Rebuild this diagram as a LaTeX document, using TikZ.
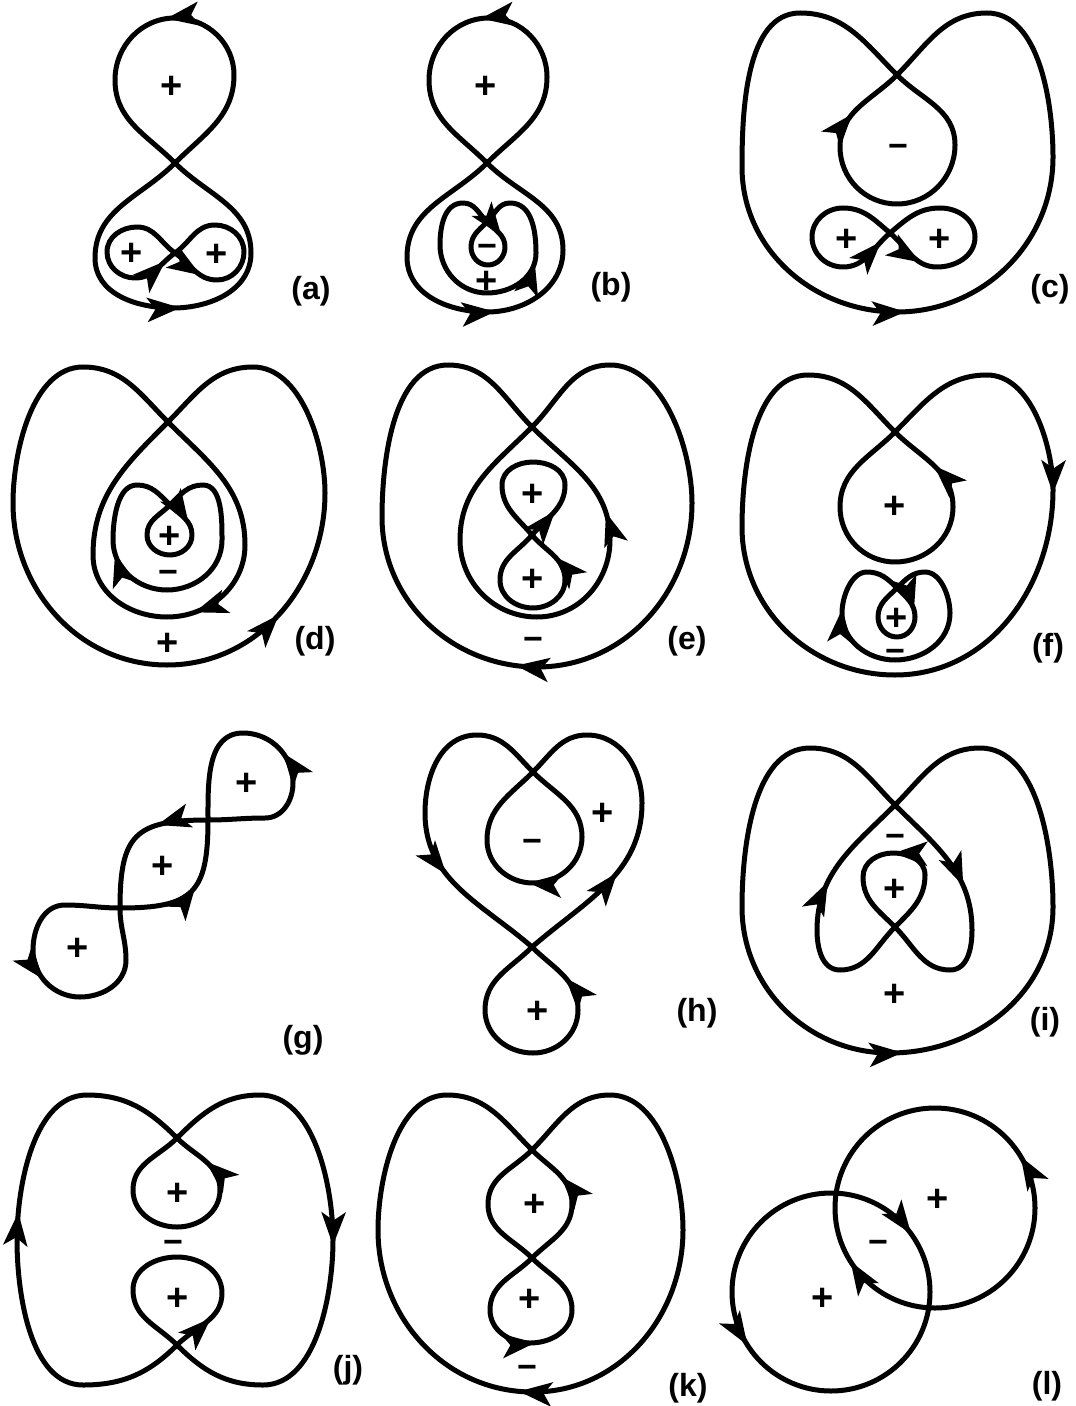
\documentclass[tikz,border=0pt]{standalone}
\usepackage{fontspec}
\setmainfont{Liberation Sans}
\usetikzlibrary{arrows.meta,decorations.markings}

\begin{document}
\begin{tikzpicture}[
    x=0.5pt, y=0.5pt,
    curve/.style={line width=2.5pt, line cap=round, line join=round},
    curvetip/.tip={Stealth[length=16.5pt, width=12pt, inset=4pt]},
    fwd/.style={postaction={decorate, decoration={markings, mark=at position #1 with {\arrow{curvetip}}}}},
    bwd/.style={postaction={decorate, decoration={markings, mark=at position #1 with {\arrowreversed{curvetip}}}}},
    sgnp/.style={font=\fontsize{19}{19}\selectfont\bfseries, inner sep=0pt, yshift=-1pt},
    sgnm/.style={font=\fontsize{17}{17}\selectfont\bfseries, inner sep=0pt, yshift=-2pt},
    tag/.style={font=\fontsize{16}{18}\selectfont\bfseries, inner sep=0pt},
    rnd/.style={looseness=0.85},
  ]
  \useasboundingbox (0,0) rectangle (1075,-1406);

  % (a)
  \coordinate (aX) at (175,-163);
  \coordinate (aY) at (175,-253);
  \draw[curve, fwd=0.52] (aX) to[out=45,in=-90] (234,-75) to[out=90,in=0] (175,-18) to[out=180,in=90] (115,-80) to[out=-90,in=135] (aX);
  \draw[curve, bwd=0.48] (aX) to[out=-45,in=90] (251,-253) to[out=-90,in=0] (173,-308) to[out=180,in=-90] (95,-258) to[out=90,in=-135] (aX);
  \draw[curve, fwd=0.93] (aY) to[out=145,in=0] (137,-227) to[out=180,in=90] (107,-252) to[out=-90,in=180] (135,-278) to[out=0,in=-145] (aY);
  \draw[curve, bwd=0.82] (aY) to[out=35,in=180] (215,-225) to[out=0,in=90] (244,-252) to[out=-90,in=0] (217,-280) to[out=180,in=-35] (aY);
  \node[sgnp] (a1) at (172,-85) {+};
  \node[sgnp] (a2) at (132,-252) {+};
  \node[sgnp] (a3) at (217,-253) {+};
  \node[tag] (la) at (311,-291) {(a)};

  % (b)
  \coordinate (bX) at (487,-163);
  \coordinate (bY) at (487,-222);
  \draw[curve, fwd=0.52] (bX) to[out=45,in=-90] (547,-77) to[out=90,in=0] (489,-18) to[out=180,in=90] (429,-80) to[out=-90,in=135] (bX);
  \draw[curve, bwd=0.475] (bX) to[out=-45,in=90] (563,-250) to[out=-90,in=0] (487,-312) to[out=180,in=-90] (407,-257) to[out=90,in=-135] (bX);
  \draw[curve, fwd=0.045, bwd=0.50] (bY) to[out=-45,in=90] (505,-247) to[out=-90,in=0] (488,-265) to[out=180,in=-90] (471,-247) to[out=90,in=-135] (bY)
    to[out=45,in=180] (510,-203) to[out=0,in=90] (536,-253) to[out=-90,in=0] (487,-293) to[out=180,in=-90] (440,-245) to[out=90,in=180] (463,-203) to[out=0,in=135] (bY);
  \node[sgnp] (b1) at (486,-85) {+};
  \node[sgnm] (b2) at (487,-247) {−};
  \node[sgnp] (b3) at (487,-280) {+};
  \node[tag] (lb) at (611,-287) {(b)};

  % (c)
  \coordinate (cX) at (897,-75);
  \coordinate (cY) at (890,-233);
  \draw[curve, bwd=0.49] (cX) to[out=45,in=180] (987,-13) to[out=0,in=90,rnd] (1053,-157) to[out=-90,in=0] (897,-312) to[out=180,in=-90] (742,-167) to[out=90,in=180,rnd] (800,-13) to[out=0,in=135] (cX);
  \draw[curve, bwd=0.16] (cX) to[out=-135,in=90] (840,-147) to[out=-90,in=180] (897,-204) to[out=0,in=-90] (955,-145) to[out=90,in=-45] (cX);
  \draw[curve, fwd=0.94] (cY) to[out=140,in=0] (843,-208) to[out=180,in=90] (812,-237) to[out=-90,in=180] (843,-267) to[out=0,in=-140] (cY);
  \draw[curve, bwd=0.81] (cY) to[out=40,in=180] (940,-208) to[out=0,in=90] (975,-237) to[out=-90,in=0] (937,-267) to[out=180,in=-40] (cY);
  \node[sgnm] (c1) at (898,-147) {−};
  \node[sgnp] (c2) at (847,-238) {+};
  \node[sgnp] (c3) at (940,-238) {+};
  \node[tag] (lc) at (1050,-289) {(c)};

  % (d)
  \coordinate (dX) at (168,-422);
  \coordinate (dY) at (170,-505);
  \draw[curve, bwd=0.38] (dX) to[out=45,in=180] (253,-367) to[out=0,in=90,rnd] (325,-493) to[out=-90,in=0] (167,-665) to[out=180,in=-90] (13,-503) to[out=90,in=180,rnd] (83,-367) to[out=0,in=135] (dX);
  \draw[curve, bwd=0.55] (dX) to[out=-135,in=90] (93,-555) to[out=-90,in=180] (167,-617) to[out=0,in=-90] (245,-545) to[out=90,in=-45] (dX);
  \draw[curve, fwd=0.05, fwd=0.77] (dY) to[out=-45,in=90] (192,-535) to[out=-90,in=0] (170,-555) to[out=180,in=-90] (147,-535) to[out=90,in=-135] (dY)
    to[out=45,in=180] (203,-485) to[out=0,in=90,rnd] (222,-540) to[out=-90,in=0] (167,-590) to[out=180,in=-90] (113,-540) to[out=90,in=180,rnd] (137,-485) to[out=0,in=135] (dY);
  \node[sgnp] (d1) at (170,-535) {+};
  \node[sgnm] (d2) at (168,-573) {−};
  \node[sgnp] (d3) at (168,-642) {+};
  \node[tag] (ld) at (315,-641) {(d)};

  % (e)
  \coordinate (eX) at (532,-427);
  \coordinate (eY) at (532,-535);
  \draw[curve, fwd=0.52] (eX) to[out=45,in=180] (610,-365) to[out=0,in=90,rnd] (692,-503) to[out=-90,in=0] (537,-667) to[out=180,in=-90] (382,-517) to[out=90,in=180,rnd] (448,-365) to[out=0,in=135] (eX);
  \draw[curve, fwd=0.78] (eX) to[out=-135,in=90] (460,-540) to[out=-90,in=180] (537,-617) to[out=0,in=-90] (610,-540) to[out=90,in=-45] (eX);
  \draw[curve, fwd=0.16] (eY) to[out=50,in=-90] (565,-485) to[out=90,in=0] (533,-462) to[out=180,in=90] (502,-485) to[out=-90,in=130] (eY);
  \draw[curve, bwd=0.15] (eY) to[out=-50,in=90] (565,-580) to[out=-90,in=0] (533,-608) to[out=180,in=-90] (500,-580) to[out=90,in=-130] (eY);
  \node[sgnp] (e1) at (533,-493) {+};
  \node[sgnp] (e2) at (533,-578) {+};
  \node[sgnm] (e3) at (533,-640) {−};
  \node[tag] (le) at (687,-641) {(e)};

  % (f)
  \coordinate (fX) at (895,-432);
  \coordinate (fY) at (897,-588);
  \draw[curve, fwd=0.247] (fX) to[out=45,in=180] (987,-375) to[out=0,in=90,rnd] (1053,-490) to[out=-90,in=0] (895,-675) to[out=180,in=-90] (742,-527) to[out=90,in=180,rnd] (808,-375) to[out=0,in=135] (fX);
  \draw[curve, fwd=0.86] (fX) to[out=-135,in=90] (840,-507) to[out=-90,in=180] (895,-562) to[out=0,in=-90] (953,-507) to[out=90,in=-45] (fX);
  \draw[curve, fwd=0.06, fwd=0.82] (fY) to[out=-45,in=90] (915,-617) to[out=-90,in=0] (897,-637) to[out=180,in=-90] (878,-617) to[out=90,in=-135] (fY)
    to[out=45,in=180] (925,-572) to[out=0,in=90,rnd] (950,-613) to[out=-90,in=0] (895,-660) to[out=180,in=-90] (842,-613) to[out=90,in=180,rnd] (867,-572) to[out=0,in=135] (fY);
  \node[sgnp] (f1) at (895,-505) {+};
  \node[sgnp] (f2) at (897,-617) {+};
  \node[sgnm] (f3) at (895,-652) {−};
  \node[tag] (lf) at (1048,-648) {(f)};

  % (g)
  \coordinate (gX) at (120,-908);
  \coordinate (gY) at (208,-820);
  \draw[curve, fwd=0.48] (gX) to[out=180,in=0] (65,-905) to[out=180,in=90] (33,-950) to[out=-90,in=180] (80,-997) to[out=0,in=-90] (126,-960) to[out=90,in=-90] (gX);
  \draw[curve, bwd=0.33, bwd=0.73] (gX) to[out=90,in=180,looseness=1.5] (gY) to[out=-90,in=0,looseness=1.5] (gX);
  \draw[curve, bwd=0.52] (gY) to[out=90,in=180] (243,-733) to[out=0,in=90] (293,-783) to[out=-90,in=0] (265,-818) to[out=180,in=0] (gY);
  \node[sgnp] (g1) at (247,-782) {+};
  \node[sgnp] (g2) at (163,-865) {+};
  \node[sgnp] (g3) at (78,-947) {+};
  \node[tag] (lg) at (303,-1040) {(g)};

  % (h)
  \coordinate (hX) at (533,-772);
  \coordinate (hY) at (532,-947);
  \draw[curve, fwd=0.68] (hX) to[out=135,in=0] (477,-735) to[out=180,in=90] (425,-813) to[out=-90,in=139] (hY);
  \draw[curve, bwd=0.68] (hX) to[out=45,in=180] (587,-735) to[out=0,in=90] (642,-803) to[out=-90,in=41] (hY);
  \draw[curve, bwd=0.48] (hX) to[out=-135,in=90] (487,-840) to[out=-90,in=180] (533,-883) to[out=0,in=-90] (582,-837) to[out=90,in=-45] (hX);
  \draw[curve, bwd=0.15] (hY) to[out=-45,in=90] (578,-1010) to[out=-90,in=0] (533,-1053) to[out=180,in=-90] (485,-1010) to[out=90,in=-135] (hY);
  \node[sgnp] (h1) at (603,-812) {+};
  \node[sgnm] (h2) at (532,-842) {−};
  \node[sgnp] (h3) at (538,-1010) {+};
  \node[tag] (lh) at (697,-1013) {(h)};

  % (i)
  \coordinate (iX) at (895,-805);
  \coordinate (iY) at (895,-927);
  \draw[curve, bwd=0.495] (iX) to[out=45,in=180] (980,-748) to[out=0,in=90,rnd] (1053,-907) to[out=-90,in=0] (890,-1053) to[out=180,in=-90] (742,-907) to[out=90,in=180,rnd] (810,-748) to[out=0,in=135] (iX);
  \draw[curve, bwd=0.135, fwd=0.50, bwd=0.86] (iX) to[out=-135,in=90] (817,-930) to[out=-90,in=180] (840,-970) to[out=0,in=-135] (iY)
    to[out=45,in=-90] (925,-875) to[out=90,in=0] (893,-853) to[out=180,in=90] (863,-877) to[out=-90,in=135] (iY)
    to[out=-45,in=180] (950,-970) to[out=0,in=-90] (972,-930) to[out=90,in=-45] (iX);
  \node[sgnm] (i1) at (895,-837) {−};
  \node[sgnp] (i2) at (895,-888) {+};
  \node[sgnp] (i3) at (895,-993) {+};
  \node[tag] (li) at (1045,-1022) {(i)};

  % (j)
  \coordinate (jX) at (177,-1138);
  \coordinate (jY) at (177,-1345);
  \draw[curve, bwd=0.45] (jX) to[out=135,in=0] (87,-1095) to[out=180,in=90,rnd] (17,-1240) to[out=-90,in=180,rnd] (83,-1385) to[out=0,in=-135] (jY);
  \draw[curve, fwd=0.51] (jX) to[out=45,in=180] (260,-1095) to[out=0,in=90,rnd] (333,-1240) to[out=-90,in=0,rnd] (263,-1385) to[out=180,in=-45] (jY);
  \draw[curve, fwd=0.86] (jX) to[out=-135,in=90] (133,-1190) to[out=-90,in=180] (177,-1227) to[out=0,in=-90] (220,-1190) to[out=90,in=-45] (jX);
  \draw[curve, bwd=0.84] (jY) to[out=135,in=-90] (133,-1290) to[out=90,in=180] (177,-1257) to[out=0,in=90] (222,-1293) to[out=-90,in=45] (jY);
  \node[sgnp] (j1) at (178,-1192) {+};
  \node[sgnm] (j2) at (173,-1243) {−};
  \node[sgnp] (j3) at (178,-1297) {+};
  \node[tag] (lj) at (348,-1370) {(j)};

  % (k)
  \coordinate (kX) at (532,-1150);
  \coordinate (kY) at (532,-1258);
  \draw[curve, fwd=0.51] (kX) to[out=45,in=180] (610,-1095) to[out=0,in=90,rnd] (683,-1230) to[out=-90,in=0] (533,-1392) to[out=180,in=-90] (378,-1230) to[out=90,in=180,rnd] (447,-1095) to[out=0,in=135] (kX);
  \draw[curve, fwd=0.86] (kX) to[out=-135,in=90] (488,-1204) to[out=-90,in=135] (kY) to[out=45,in=-90] (572,-1204) to[out=90,in=-45] (kX);
  \draw[curve, fwd=0.52] (kY) to[out=-135,in=90] (490,-1310) to[out=-90,in=180] (530,-1343) to[out=0,in=-90] (572,-1310) to[out=90,in=-45] (kY);
  \node[sgnp] (k1) at (535,-1203) {+};
  \node[sgnp] (k2) at (530,-1298) {+};
  \node[sgnm] (k3) at (527,-1368) {−};
  \node[tag] (lk) at (688,-1388) {(k)};

  % (l)
  \coordinate (lA) at (935,-1208);
  \coordinate (lB) at (831,-1292);
  \draw[curve, fwd=0.086, bwd=0.59] (lA) circle[radius=100];
  \draw[curve, bwd=0.10, fwd=0.59] (lB) circle[radius=99];
  \node[sgnp] (l1) at (938,-1198) {+};
  \node[sgnm] (l2) at (878,-1243) {−};
  \node[sgnp] (l3) at (823,-1297) {+};
  \node[tag] (ll) at (1047,-1386) {(l)};
\end{tikzpicture}
\end{document}
